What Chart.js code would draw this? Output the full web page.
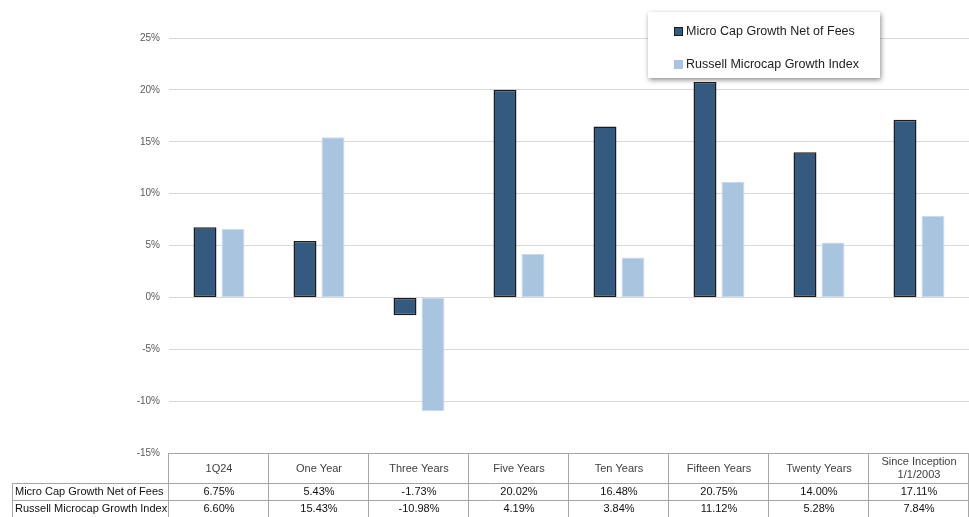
<!DOCTYPE html>
<html>
<head>
<meta charset="utf-8">
<script src="https://cdn.jsdelivr.net/npm/chart.js@4.4.1/dist/chart.umd.min.js"></script>
<style>
  html, body { margin: 0; padding: 0; background: #fff; }
  #wrap { position: relative; width: 969px; height: 517px; overflow: hidden; }
  #legend {
    position: absolute; left: 648px; top: 12px; width: 232px; height: 66px;
    background: #fff; box-shadow: 1px 2px 5px rgba(0,0,0,0.45);
    font-family: "Liberation Sans", Arial, sans-serif; font-size: 12.5px; color: #222;
  }
  .lg-row { position: absolute; left: 26px; display: flex; align-items: center; }
  .lg-box { width: 9px; height: 9px; margin-right: 3px; box-sizing: border-box; }
</style>
</head>
<body>
<div id="wrap">
  <canvas id="chart" width="969" height="517"></canvas>
  <div id="legend"></div>
</div>
<script>
const categories = ['1Q24', 'One Year', 'Three Years', 'Five Years', 'Ten Years', 'Fifteen Years', 'Twenty Years', ['Since Inception', '1/1/2003']];
const fundName = 'Micro Cap Growth Net of Fees';
const indexName = 'Russell Microcap Growth Index';
const fundValues = [6.75, 5.43, -1.73, 20.02, 16.48, 20.75, 14.00, 17.11];
const indexValues = [6.60, 15.43, -10.98, 4.19, 3.84, 11.12, 5.28, 7.84];

const DARK = '#345a80';
const LIGHT = '#a9c4de';
const FONT = '"Liberation Sans", Arial, sans-serif';

// --- Data table drawn under the plot, aligned to the category scale ---
const tablePlugin = {
  id: 'dataTable',
  afterDraw(chart) {
    const { ctx, chartArea } = chart;
    const xs = chart.scales.x;
    const step = (chartArea.right - chartArea.left) / categories.length;
    const top = chartArea.bottom;
    const headBottom = top + 30;
    const row1Bottom = headBottom + 17;
    const row2Bottom = row1Bottom + 17;
    const labelLeft = 12;

    ctx.save();
    ctx.strokeStyle = '#a6a6a6';
    ctx.lineWidth = 1;

    // horizontal lines
    ctx.beginPath();
    ctx.moveTo(chartArea.left, top + 0.5); ctx.lineTo(chartArea.right, top + 0.5);
    ctx.moveTo(labelLeft, headBottom + 0.5); ctx.lineTo(chartArea.right, headBottom + 0.5);
    ctx.moveTo(labelLeft, row1Bottom + 0.5); ctx.lineTo(chartArea.right, row1Bottom + 0.5);
    ctx.moveTo(labelLeft, row2Bottom + 0.5); ctx.lineTo(chartArea.right, row2Bottom + 0.5);
    // vertical lines
    ctx.moveTo(labelLeft + 0.5, headBottom); ctx.lineTo(labelLeft + 0.5, row2Bottom);
    for (let i = 0; i <= categories.length; i++) {
      const x = Math.round(chartArea.left + i * step) - 0.5;
      ctx.moveTo(x, top); ctx.lineTo(x, row2Bottom);
    }
    ctx.stroke();

    // header text
    ctx.textAlign = 'center';
    ctx.textBaseline = 'middle';
    ctx.font = '11px ' + FONT;
    ctx.fillStyle = '#404040';
    categories.forEach((c, i) => {
      const cx = xs.getPixelForValue(i);
      if (Array.isArray(c)) {
        ctx.fillText(c[0], cx, top + 9);
        ctx.fillText(c[1], cx, top + 22);
      } else {
        ctx.fillText(c, cx, top + 16);
      }
    });

    // value rows
    ctx.fillStyle = '#111';
    fundValues.forEach((v, i) => ctx.fillText(v.toFixed(2) + '%', xs.getPixelForValue(i), headBottom + 9));
    indexValues.forEach((v, i) => ctx.fillText(v.toFixed(2) + '%', xs.getPixelForValue(i), row1Bottom + 9));

    ctx.textAlign = 'left';
    ctx.fillText(fundName, labelLeft + 3, headBottom + 9);
    ctx.fillText(indexName, labelLeft + 3, row1Bottom + 9);
    ctx.restore();
  }
};

const chart = new Chart(document.getElementById('chart'), {
  type: 'bar',
  data: {
    labels: categories,
    datasets: [
      {
        label: fundName,
        data: fundValues,
        backgroundColor: DARK,
        borderColor: '#1b1b1b',
        borderWidth: 1.5,
        borderSkipped: false,
        categoryPercentage: 0.56,
        barPercentage: 0.82,
      },
      {
        label: indexName,
        data: indexValues,
        backgroundColor: LIGHT,
        borderColor: '#c9daec',
        borderWidth: 1,
        borderSkipped: false,
        categoryPercentage: 0.56,
        barPercentage: 0.82,
      },
    ],
  },
  options: {
    responsive: false,
    animation: false,
    layout: { padding: { top: 38, right: 0, bottom: 64, left: 0 } },
    plugins: {
      legend: { display: false },
      tooltip: { enabled: false },
    },
    scales: {
      x: { display: false },
      y: {
        min: -15,
        max: 25,
        afterFit(scale) { scale.width = 169; },
        border: { display: false },
        grid: { color: '#d9d9d9', drawTicks: false },
        ticks: {
          stepSize: 5,
          padding: 9,
          color: '#595959',
          font: { family: FONT, size: 10 },
          callback: v => v + '%',
        },
      },
    },
  },
  plugins: [tablePlugin],
});

// --- HTML legend (overlaps the plot, like the reference) ---
const legendEl = document.getElementById('legend');
[[fundName, DARK, '#1b1b1b', 12], [indexName, LIGHT, LIGHT, 45]].forEach(([name, fill, edge, top]) => {
  const row = document.createElement('div');
  row.className = 'lg-row';
  row.style.top = top + 'px';
  const box = document.createElement('span');
  box.className = 'lg-box';
  box.style.background = fill;
  box.style.border = '1.5px solid ' + edge;
  const txt = document.createElement('span');
  txt.textContent = name;
  row.appendChild(box);
  row.appendChild(txt);
  legendEl.appendChild(row);
});
</script>
</body>
</html>
